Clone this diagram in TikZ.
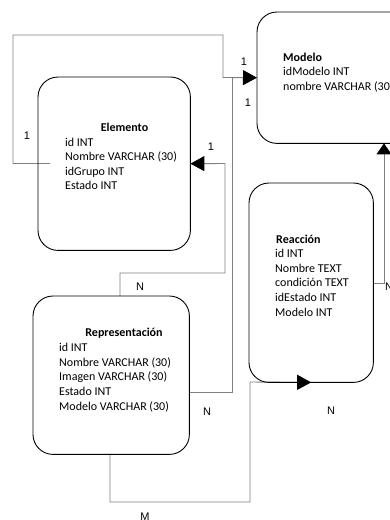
\documentclass[tikz,border=0pt]{standalone}
\usepackage{fontspec}
\setmainfont{Carlito}
\newfontfamily\lblfont{Liberation Sans}
\usetikzlibrary{arrows.meta}
\begin{document}
\begin{tikzpicture}[x=1pt,y=-1pt,
 entity/.style={draw=none, inner sep=0pt, anchor=north west},
 boxline/.style={draw=black, line width=0.9pt, rounded corners=20pt},
 txt/.style={anchor=base west, inner sep=0pt, font=\fontsize{12}{14.6}\selectfont},
 ttl/.style={inner sep=0pt, font=\fontsize{12}{14.6}\selectfont\bfseries},
 lbl/.style={inner sep=0pt, font=\lblfont\fontsize{11}{13}\selectfont},
 conn/.style={draw=black!50, line width=0.9pt},
 tip/.style={-{Triangle[length=14pt,width=15pt,color=black]}},
 tipup/.style={-{Triangle[length=11pt,width=15pt,color=black]}}
]
\useasboundingbox (0,0) rectangle (389,520);

% entity areas
\node[entity, minimum width=152pt, minimum height=173pt] (elem) at (38,77) {};
\node[entity, minimum width=153pt, minimum height=131pt] (modelo) at (257,12) {};
\node[entity, minimum width=124pt, minimum height=199pt] (reac) at (249,183) {};
\node[entity, minimum width=156pt, minimum height=158pt] (rep) at (33,296) {};

% connectors
\coordinate (e1) at (50,163.5);
\draw[conn, tip] (e1) -- (13,163.5) -- (13,35) -- (223,35) -- (223,77.5) -- (modelo.west);
\draw[conn] (rep.east |- 0,392) -- (232,392) -- (232,77.5);
\draw[conn, tip] (rep.north -| 120,0) -- (120,273) -- (225,273) -- (225,163.5) -- (elem.east);
\draw[conn, tip] (rep.south -| 110,0) -- (110,502) -- (250,502) -- (250,382) -- (reac.south);
\draw[conn, tipup] (reac.east |- 0,283) -- (384,283) -- (modelo.south -| 384,0);

% boxes
\draw[boxline] (elem.north west) rectangle (elem.south east);
\draw[boxline] (modelo.north west) rectangle (modelo.south east);
\draw[boxline] (reac.north west) rectangle (reac.south east);
\draw[boxline] (rep.north west) rectangle (rep.south east);

% Elemento
\node[ttl, anchor=base] (elemT) at (124.5,131) {Elemento};
\node[txt] (elem1) at (65,146) {id INT};
\node[txt] (elem2) at (65,160.6) {Nombre VARCHAR (30)};
\node[txt] (elem3) at (65,175.2) {idGrupo INT};
\node[txt] (elem4) at (65,189.8) {Estado INT};

% Modelo
\node[ttl, anchor=base west] (modT) at (283,61) {Modelo};
\node[txt] (mod1) at (283,75.6) {idModelo INT};
\node[txt] (mod2) at (283,90.2) {nombre VARCHAR (30)};

% Reaccion
\node[ttl, anchor=base west] (reaT) at (276,243) {Reacción};
\node[txt] (rea1) at (275,257.6) {id INT};
\node[txt] (rea2) at (275,272.2) {Nombre TEXT};
\node[txt] (rea3) at (275,286.8) {condición TEXT};
\node[txt] (rea4) at (275,301.4) {idEstado INT};
\node[txt] (rea5) at (275,316) {Modelo INT};

% Representacion
\node[ttl, anchor=base] (repT) at (124,336) {Representación};
\node[txt] (rep1) at (59,351.6) {id INT};
\node[txt] (rep2) at (59,366.2) {Nombre VARCHAR (30)};
\node[txt] (rep3) at (59,380.8) {Imagen VARCHAR (30)};
\node[txt] (rep4) at (59,395.4) {Estado INT};
\node[txt] (rep5) at (59,410) {Modelo VARCHAR (30)};

% cardinality labels
\node[lbl] (l1) at (27,136) {1};
\node[lbl] (l2) at (244,62) {1};
\node[lbl] (l3) at (248,103) {1};
\node[lbl] (l4) at (211,147) {1};
\node[lbl] (l5) at (140,287) {N};
\node[lbl] (l6) at (207,412) {N};
\node[lbl] (l7) at (331,411) {N};
\node[lbl] (l8) at (145,517) {M};
\node[lbl, anchor=west] (l9) at (385,287) {N};
\end{tikzpicture}
\end{document}
